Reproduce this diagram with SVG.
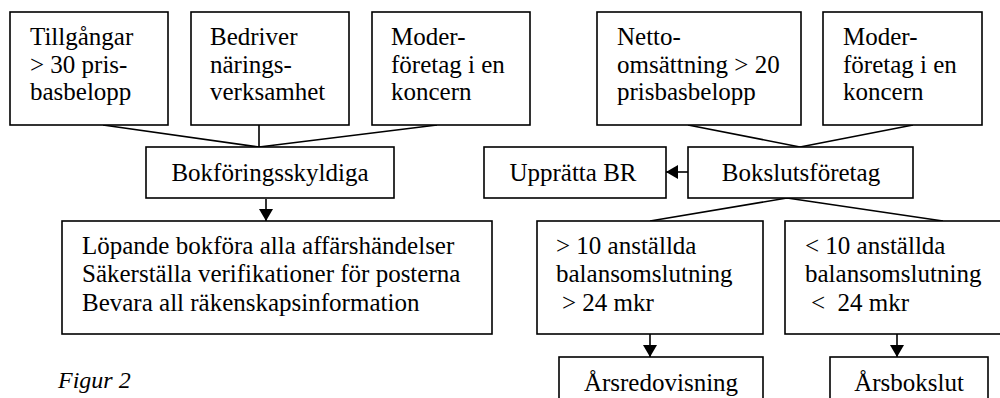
<svg xmlns="http://www.w3.org/2000/svg" width="1000" height="398" viewBox="0 0 1000 398">
<style>
.box{fill:#fff;stroke:#000;stroke-width:1.6}
.ln{stroke:#000;stroke-width:1.6;fill:none}
svg text, g text, text{font-family:'Liberation Serif','Times New Roman',serif !important;font-size:25px;fill:#000}
</style>
<defs>
<marker id="ah" viewBox="0 0 12 14" refX="12" refY="7" markerWidth="12" markerHeight="14" markerUnits="userSpaceOnUse" orient="auto">
<path d="M0,0 L12,7 L0,14 Z" fill="#000"/>
</marker>
</defs>
<rect width="1000" height="398" fill="#fff"/>
<g id="connectors">
<path class="ln" d="M103,125 L259,147 M259,125 L259,147 M437,125 L259,147"/>
<path class="ln" d="M688,125 L800,147 M913,125 L800,147"/>
<path class="ln" d="M787,198 L650,221 M787,198 L943,221"/>
<line class="ln" x1="266" y1="199" x2="266" y2="221" marker-end="url(#ah)"/>
<line class="ln" x1="688" y1="172" x2="666" y2="172" marker-end="url(#ah)"/>
<line class="ln" x1="650" y1="334" x2="650" y2="357" marker-end="url(#ah)"/>
<line class="ln" x1="897" y1="334" x2="897" y2="357" marker-end="url(#ah)"/>
</g>
<g id="tillgangar">
<rect class="box" x="10" y="12" width="158" height="113"/>
<text style="font-family:'Liberation Serif',serif !important" font-family="Liberation Serif" x="30" y="45">Tillgångar</text>
<text style="font-family:'Liberation Serif',serif !important" font-family="Liberation Serif" x="30" y="73">&gt; 30 pris-</text>
<text style="font-family:'Liberation Serif',serif !important" font-family="Liberation Serif" x="30" y="100">basbelopp</text>
</g>
<g id="bedriver">
<rect class="box" x="191" y="12" width="158" height="113"/>
<text style="font-family:'Liberation Serif',serif !important" font-family="Liberation Serif" x="210" y="45">Bedriver</text>
<text style="font-family:'Liberation Serif',serif !important" font-family="Liberation Serif" x="210" y="73">närings-</text>
<text style="font-family:'Liberation Serif',serif !important" font-family="Liberation Serif" x="210" y="100">verksamhet</text>
</g>
<g id="moder1">
<rect class="box" x="372" y="12" width="158" height="113"/>
<text style="font-family:'Liberation Serif',serif !important" font-family="Liberation Serif" x="391" y="45">Moder-</text>
<text style="font-family:'Liberation Serif',serif !important" font-family="Liberation Serif" x="391" y="73">företag i en</text>
<text style="font-family:'Liberation Serif',serif !important" font-family="Liberation Serif" x="391" y="100">koncern</text>
</g>
<g id="netto">
<rect class="box" x="597" y="12" width="204" height="113"/>
<text style="font-family:'Liberation Serif',serif !important" font-family="Liberation Serif" x="617" y="45">Netto-</text>
<text style="font-family:'Liberation Serif',serif !important" font-family="Liberation Serif" x="617" y="73">omsättning &gt; 20</text>
<text style="font-family:'Liberation Serif',serif !important" font-family="Liberation Serif" x="617" y="100">prisbasbelopp</text>
</g>
<g id="moder2">
<rect class="box" x="823" y="12" width="159" height="113"/>
<text style="font-family:'Liberation Serif',serif !important" font-family="Liberation Serif" x="843" y="45">Moder-</text>
<text style="font-family:'Liberation Serif',serif !important" font-family="Liberation Serif" x="843" y="73">företag i en</text>
<text style="font-family:'Liberation Serif',serif !important" font-family="Liberation Serif" x="843" y="100">koncern</text>
</g>
<g id="bokforingsskyldiga">
<rect class="box" x="146" y="147" width="248" height="51"/>
<text style="font-family:'Liberation Serif',serif !important" font-family="Liberation Serif" x="270" y="181" text-anchor="middle">Bokföringsskyldiga</text>
</g>
<g id="upprattabr">
<rect class="box" x="484" y="147" width="182" height="51"/>
<text style="font-family:'Liberation Serif',serif !important" font-family="Liberation Serif" x="573" y="181" text-anchor="middle">Upprätta BR</text>
</g>
<g id="bokslutsforetag">
<rect class="box" x="688" y="147" width="225" height="51"/>
<text style="font-family:'Liberation Serif',serif !important" font-family="Liberation Serif" x="801" y="181" text-anchor="middle">Bokslutsföretag</text>
</g>
<g id="lopande">
<rect class="box" x="62" y="221" width="430" height="113"/>
<text style="font-family:'Liberation Serif',serif !important" font-family="Liberation Serif" x="82" y="254">Löpande bokföra alla affärshändelser</text>
<text style="font-family:'Liberation Serif',serif !important" font-family="Liberation Serif" x="82" y="282">Säkerställa verifikationer för posterna</text>
<text style="font-family:'Liberation Serif',serif !important" font-family="Liberation Serif" x="82" y="311">Bevara all räkenskapsinformation</text>
</g>
<g id="over10">
<rect class="box" x="537" y="221" width="226" height="113"/>
<text style="font-family:'Liberation Serif',serif !important" font-family="Liberation Serif" x="556" y="254">&gt; 10 anställda</text>
<text style="font-family:'Liberation Serif',serif !important" font-family="Liberation Serif" x="556" y="282">balansomslutning</text>
<text style="font-family:'Liberation Serif',serif !important" font-family="Liberation Serif" x="562" y="311">&gt; 24 mkr</text>
</g>
<g id="under10">
<rect class="box" x="785" y="221" width="220" height="113"/>
<text style="font-family:'Liberation Serif',serif !important" font-family="Liberation Serif" x="805" y="254">&lt; 10 anställda</text>
<text style="font-family:'Liberation Serif',serif !important" font-family="Liberation Serif" x="805" y="282">balansomslutning</text>
<text style="font-family:'Liberation Serif',serif !important" font-family="Liberation Serif" x="811" y="311" xml:space="preserve">&lt;  24 mkr</text>
</g>
<g id="arsredovisning">
<rect class="box" x="559" y="357" width="204" height="60"/>
<text style="font-family:'Liberation Serif',serif !important" font-family="Liberation Serif" x="661" y="391" text-anchor="middle">Årsredovisning</text>
</g>
<g id="arsbokslut">
<rect class="box" x="830" y="357" width="158" height="60"/>
<text style="font-family:'Liberation Serif',serif !important" font-family="Liberation Serif" x="909" y="391" text-anchor="middle">Årsbokslut</text>
</g>
<text style="font-family:'Liberation Serif',serif !important;font-size:24px;font-style:italic" font-family="Liberation Serif" x="58" y="388">Figur 2</text>
</svg>
